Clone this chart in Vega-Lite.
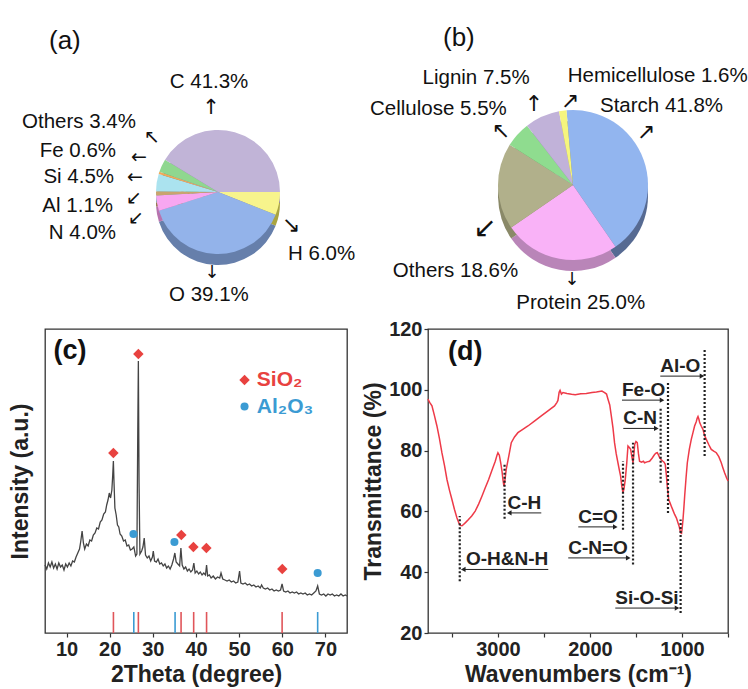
{
  "$schema": "https://vega.github.io/schema/vega-lite/v6.json",
  "background": "white",
  "padding": {"left": 8, "top": 24, "right": 0, "bottom": 0},
  "datasets": {
    "pieA": [
      {"cat": "H", "pct": 6.0, "idx": 1, "label": "H 6.0%"},
      {"cat": "O", "pct": 39.1, "idx": 2, "label": "O 39.1%"},
      {"cat": "N", "pct": 4.0, "idx": 3, "label": "N 4.0%"},
      {"cat": "Al", "pct": 1.1, "idx": 4, "label": "Al 1.1%"},
      {"cat": "Si", "pct": 4.5, "idx": 5, "label": "Si 4.5%"},
      {"cat": "Fe", "pct": 0.6, "idx": 6, "label": "Fe 0.6%"},
      {"cat": "Others", "pct": 3.4, "idx": 7, "label": "Others 3.4%"},
      {"cat": "C", "pct": 41.3, "idx": 8, "label": "C 41.3%"}
    ],
    "pieB": [
      {"cat": "Starch", "pct": 41.8, "idx": 1, "label": "Starch 41.8%"},
      {"cat": "Protein", "pct": 25.0, "idx": 2, "label": "Protein 25.0%"},
      {"cat": "Others", "pct": 18.6, "idx": 3, "label": "Others 18.6%"},
      {"cat": "Cellulose", "pct": 5.5, "idx": 4, "label": "Cellulose 5.5%"},
      {"cat": "Lignin", "pct": 7.5, "idx": 5, "label": "Lignin 7.5%"},
      {"cat": "Hemicellulose", "pct": 1.6, "idx": 6, "label": "Hemicellulose 1.6%"}
    ],
    "xrd": [
      {"tt": 5.0, "i": 68}, {"tt": 5.4, "i": 64}, {"tt": 5.8, "i": 70}, {"tt": 6.2, "i": 66}, {"tt": 6.6, "i": 71},
      {"tt": 7.0, "i": 65}, {"tt": 7.4, "i": 69}, {"tt": 7.8, "i": 64}, {"tt": 8.2, "i": 70}, {"tt": 8.6, "i": 66},
      {"tt": 9.0, "i": 68}, {"tt": 9.4, "i": 63}, {"tt": 9.8, "i": 69}, {"tt": 10.2, "i": 66}, {"tt": 10.6, "i": 70},
      {"tt": 11.0, "i": 67}, {"tt": 11.4, "i": 72}, {"tt": 11.8, "i": 71}, {"tt": 12.2, "i": 76}, {"tt": 12.6, "i": 80},
      {"tt": 13.0, "i": 84}, {"tt": 13.3, "i": 92}, {"tt": 13.6, "i": 102}, {"tt": 13.9, "i": 90}, {"tt": 14.2, "i": 84},
      {"tt": 14.6, "i": 89}, {"tt": 15.0, "i": 87}, {"tt": 15.4, "i": 93}, {"tt": 15.8, "i": 92}, {"tt": 16.2, "i": 98},
      {"tt": 16.6, "i": 100}, {"tt": 17.0, "i": 105}, {"tt": 17.4, "i": 104}, {"tt": 17.8, "i": 111}, {"tt": 18.2, "i": 113},
      {"tt": 18.6, "i": 119}, {"tt": 19.0, "i": 121}, {"tt": 19.3, "i": 128}, {"tt": 19.6, "i": 133}, {"tt": 19.9, "i": 140},
      {"tt": 20.2, "i": 135}, {"tt": 20.5, "i": 143}, {"tt": 20.7, "i": 158}, {"tt": 20.85, "i": 172}, {"tt": 21.0, "i": 150},
      {"tt": 21.2, "i": 125}, {"tt": 21.5, "i": 118}, {"tt": 21.8, "i": 108}, {"tt": 22.1, "i": 106}, {"tt": 22.4, "i": 99},
      {"tt": 22.8, "i": 97}, {"tt": 23.2, "i": 92}, {"tt": 23.6, "i": 93}, {"tt": 24.0, "i": 87}, {"tt": 24.4, "i": 88},
      {"tt": 24.8, "i": 83}, {"tt": 25.2, "i": 84}, {"tt": 25.6, "i": 86}, {"tt": 26.0, "i": 77}, {"tt": 26.3, "i": 79},
      {"tt": 26.5, "i": 200}, {"tt": 26.64, "i": 272}, {"tt": 26.8, "i": 150}, {"tt": 27.0, "i": 79}, {"tt": 27.4, "i": 82},
      {"tt": 27.7, "i": 86}, {"tt": 28.0, "i": 95}, {"tt": 28.3, "i": 78}, {"tt": 28.7, "i": 75}, {"tt": 29.1, "i": 77},
      {"tt": 29.5, "i": 72}, {"tt": 29.9, "i": 76}, {"tt": 30.1, "i": 82}, {"tt": 30.4, "i": 72}, {"tt": 30.8, "i": 71},
      {"tt": 31.2, "i": 74}, {"tt": 31.6, "i": 69}, {"tt": 32.0, "i": 70}, {"tt": 32.4, "i": 67}, {"tt": 32.8, "i": 69},
      {"tt": 33.2, "i": 65}, {"tt": 33.6, "i": 67}, {"tt": 34.0, "i": 64}, {"tt": 34.4, "i": 68}, {"tt": 34.8, "i": 74},
      {"tt": 35.1, "i": 80}, {"tt": 35.4, "i": 71}, {"tt": 35.8, "i": 69}, {"tt": 36.2, "i": 67}, {"tt": 36.5, "i": 85},
      {"tt": 36.8, "i": 68}, {"tt": 37.2, "i": 64}, {"tt": 37.6, "i": 66}, {"tt": 38.0, "i": 62}, {"tt": 38.4, "i": 64},
      {"tt": 38.8, "i": 61}, {"tt": 39.2, "i": 63}, {"tt": 39.5, "i": 70}, {"tt": 39.8, "i": 60}, {"tt": 40.2, "i": 62},
      {"tt": 40.6, "i": 59}, {"tt": 41.0, "i": 61}, {"tt": 41.4, "i": 58}, {"tt": 41.8, "i": 60}, {"tt": 42.2, "i": 58},
      {"tt": 42.45, "i": 68}, {"tt": 42.7, "i": 57}, {"tt": 43.1, "i": 58}, {"tt": 43.5, "i": 55}, {"tt": 44.0, "i": 57},
      {"tt": 44.5, "i": 54}, {"tt": 45.0, "i": 56}, {"tt": 45.5, "i": 55}, {"tt": 45.8, "i": 60}, {"tt": 46.2, "i": 54},
      {"tt": 46.7, "i": 53}, {"tt": 47.2, "i": 52}, {"tt": 47.7, "i": 53}, {"tt": 48.2, "i": 51}, {"tt": 48.7, "i": 52},
      {"tt": 49.2, "i": 50}, {"tt": 49.7, "i": 51}, {"tt": 50.1, "i": 62}, {"tt": 50.4, "i": 50}, {"tt": 50.9, "i": 49},
      {"tt": 51.4, "i": 50}, {"tt": 51.9, "i": 48}, {"tt": 52.4, "i": 49}, {"tt": 52.9, "i": 47}, {"tt": 53.4, "i": 48},
      {"tt": 53.9, "i": 46}, {"tt": 54.4, "i": 47}, {"tt": 54.9, "i": 45}, {"tt": 55.2, "i": 48}, {"tt": 55.6, "i": 45},
      {"tt": 56.1, "i": 44}, {"tt": 56.6, "i": 45}, {"tt": 57.1, "i": 43}, {"tt": 57.6, "i": 44}, {"tt": 58.1, "i": 42},
      {"tt": 58.6, "i": 43}, {"tt": 59.1, "i": 42}, {"tt": 59.6, "i": 43}, {"tt": 59.95, "i": 49}, {"tt": 60.3, "i": 42},
      {"tt": 60.8, "i": 41}, {"tt": 61.3, "i": 42}, {"tt": 61.8, "i": 40}, {"tt": 62.3, "i": 41}, {"tt": 62.8, "i": 40},
      {"tt": 63.3, "i": 41}, {"tt": 63.8, "i": 39}, {"tt": 64.3, "i": 40}, {"tt": 64.8, "i": 39}, {"tt": 65.3, "i": 40},
      {"tt": 65.8, "i": 38}, {"tt": 66.3, "i": 39}, {"tt": 66.8, "i": 38}, {"tt": 67.3, "i": 40}, {"tt": 67.8, "i": 42},
      {"tt": 68.2, "i": 47}, {"tt": 68.6, "i": 39}, {"tt": 69.1, "i": 38}, {"tt": 69.6, "i": 39}, {"tt": 70.1, "i": 37},
      {"tt": 70.6, "i": 39}, {"tt": 71.1, "i": 38}, {"tt": 71.6, "i": 39}, {"tt": 72.1, "i": 37}, {"tt": 72.6, "i": 38},
      {"tt": 73.1, "i": 37}, {"tt": 73.6, "i": 39}, {"tt": 74.1, "i": 37}, {"tt": 74.6, "i": 38}, {"tt": 75.0, "i": 37}
    ],
    "xrdRef": [
      {"tt": 20.86, "phase": "SiO₂"}, {"tt": 26.64, "phase": "SiO₂"}, {"tt": 36.54, "phase": "SiO₂"},
      {"tt": 39.46, "phase": "SiO₂"}, {"tt": 42.45, "phase": "SiO₂"}, {"tt": 59.96, "phase": "SiO₂"},
      {"tt": 25.58, "phase": "Al₂O₃"}, {"tt": 35.15, "phase": "Al₂O₃"}, {"tt": 68.2, "phase": "Al₂O₃"}
    ],
    "xrdMarks": [
      {"tt": 20.85, "i": 180, "phase": "SiO₂"}, {"tt": 26.64, "i": 279, "phase": "SiO₂"},
      {"tt": 36.6, "i": 98, "phase": "SiO₂"}, {"tt": 39.4, "i": 86, "phase": "SiO₂"},
      {"tt": 42.4, "i": 85, "phase": "SiO₂"}, {"tt": 60.0, "i": 64, "phase": "SiO₂"},
      {"tt": 25.5, "i": 99, "phase": "Al₂O₃"}, {"tt": 35.0, "i": 91, "phase": "Al₂O₃"},
      {"tt": 68.2, "i": 60, "phase": "Al₂O₃"}
    ],
    "ftir": [
      {"wn": 3761, "t": 96.9}, {"wn": 3740, "t": 95.8}, {"wn": 3717, "t": 94.7}, {"wn": 3690, "t": 91.5},
      {"wn": 3663, "t": 88.1}, {"wn": 3636, "t": 84}, {"wn": 3609, "t": 79.3}, {"wn": 3580, "t": 75},
      {"wn": 3554, "t": 70.5}, {"wn": 3527, "t": 67}, {"wn": 3500, "t": 63.9}, {"wn": 3473, "t": 60.7},
      {"wn": 3446, "t": 57.9}, {"wn": 3425, "t": 56.2}, {"wn": 3410, "t": 55.4}, {"wn": 3390, "t": 55.3},
      {"wn": 3374, "t": 55.7}, {"wn": 3350, "t": 56.4}, {"wn": 3320, "t": 57.3}, {"wn": 3285, "t": 58.5},
      {"wn": 3247, "t": 60.1}, {"wn": 3210, "t": 62.4}, {"wn": 3174, "t": 65}, {"wn": 3140, "t": 67.6},
      {"wn": 3101, "t": 70.5}, {"wn": 3065, "t": 73.5}, {"wn": 3029, "t": 76.5}, {"wn": 3010, "t": 78.5},
      {"wn": 3000, "t": 79.3}, {"wn": 2985, "t": 78.5}, {"wn": 2970, "t": 76}, {"wn": 2955, "t": 73},
      {"wn": 2946, "t": 70.5}, {"wn": 2935, "t": 68.3}, {"wn": 2925, "t": 70}, {"wn": 2910, "t": 73.8},
      {"wn": 2880, "t": 78.5}, {"wn": 2855, "t": 82.6}, {"wn": 2820, "t": 84.5}, {"wn": 2783, "t": 85.9},
      {"wn": 2730, "t": 87}, {"wn": 2674, "t": 88.1}, {"wn": 2600, "t": 89.8}, {"wn": 2529, "t": 91.4},
      {"wn": 2460, "t": 93}, {"wn": 2385, "t": 94.7}, {"wn": 2360, "t": 95.8}, {"wn": 2348, "t": 96.5},
      {"wn": 2335, "t": 99.2}, {"wn": 2325, "t": 99.8}, {"wn": 2310, "t": 98.6}, {"wn": 2293, "t": 99.1},
      {"wn": 2250, "t": 98.8}, {"wn": 2200, "t": 98.5}, {"wn": 2160, "t": 98.4}, {"wn": 2100, "t": 98.7},
      {"wn": 2040, "t": 98.8}, {"wn": 1978, "t": 99.1}, {"wn": 1930, "t": 99.3}, {"wn": 1870, "t": 99.6},
      {"wn": 1841, "t": 99.1}, {"wn": 1820, "t": 98.6}, {"wn": 1804, "t": 96.9}, {"wn": 1785, "t": 95},
      {"wn": 1768, "t": 91.4}, {"wn": 1750, "t": 87.5}, {"wn": 1733, "t": 82.6}, {"wn": 1715, "t": 79},
      {"wn": 1696, "t": 76}, {"wn": 1680, "t": 73.5}, {"wn": 1667, "t": 71.6}, {"wn": 1655, "t": 68.5},
      {"wn": 1641, "t": 66.1}, {"wn": 1630, "t": 67.5}, {"wn": 1616, "t": 70.5}, {"wn": 1600, "t": 76},
      {"wn": 1587, "t": 81.5}, {"wn": 1572, "t": 81}, {"wn": 1558, "t": 80.4}, {"wn": 1545, "t": 78},
      {"wn": 1532, "t": 76}, {"wn": 1522, "t": 79}, {"wn": 1514, "t": 82}, {"wn": 1500, "t": 83},
      {"wn": 1486, "t": 82.6}, {"wn": 1473, "t": 79}, {"wn": 1461, "t": 76.5}, {"wn": 1440, "t": 76.2},
      {"wn": 1420, "t": 76.5}, {"wn": 1407, "t": 76}, {"wn": 1380, "t": 76.3}, {"wn": 1352, "t": 76.5},
      {"wn": 1325, "t": 77.5}, {"wn": 1298, "t": 78.7}, {"wn": 1280, "t": 79.2}, {"wn": 1268, "t": 79.3},
      {"wn": 1255, "t": 78.5}, {"wn": 1243, "t": 77.7}, {"wn": 1225, "t": 77}, {"wn": 1207, "t": 76.5},
      {"wn": 1195, "t": 76.2}, {"wn": 1182, "t": 75.5}, {"wn": 1170, "t": 72}, {"wn": 1160, "t": 68.3},
      {"wn": 1150, "t": 65.5}, {"wn": 1145, "t": 63.9}, {"wn": 1130, "t": 62.8}, {"wn": 1116, "t": 61.7},
      {"wn": 1100, "t": 60.5}, {"wn": 1080, "t": 59}, {"wn": 1060, "t": 57.8}, {"wn": 1043, "t": 56.2},
      {"wn": 1030, "t": 55}, {"wn": 1015, "t": 53}, {"wn": 1005, "t": 52.8}, {"wn": 1000, "t": 54},
      {"wn": 990, "t": 57}, {"wn": 980, "t": 61}, {"wn": 971, "t": 65}, {"wn": 956, "t": 71},
      {"wn": 942, "t": 76}, {"wn": 920, "t": 80.5}, {"wn": 899, "t": 83.7}, {"wn": 880, "t": 86},
      {"wn": 863, "t": 88.1}, {"wn": 845, "t": 89.5}, {"wn": 835, "t": 90.6}, {"wn": 826, "t": 91.2},
      {"wn": 816, "t": 90.3}, {"wn": 808, "t": 89.2}, {"wn": 790, "t": 88}, {"wn": 772, "t": 87},
      {"wn": 755, "t": 85}, {"wn": 736, "t": 83.7}, {"wn": 710, "t": 82}, {"wn": 682, "t": 80.4},
      {"wn": 655, "t": 79.8}, {"wn": 627, "t": 79.3}, {"wn": 600, "t": 78}, {"wn": 573, "t": 76},
      {"wn": 555, "t": 74.3}, {"wn": 537, "t": 72.7}, {"wn": 515, "t": 71}, {"wn": 500, "t": 70}
    ],
    "ftirBands": [
      {"band": "O-H&N-H", "wn": 3415, "t1": 37, "t2": 58.5, "tail": 2453, "head": 3377, "ta": 40.9, "dir": "left"},
      {"band": "C-H", "wn": 2928, "t1": 57.6, "t2": 75.5, "tail": 2529, "head": 2877, "ta": 59.5, "dir": "left"},
      {"band": "C=O", "wn": 1641, "t1": 54, "t2": 76.5, "tail": 2127, "head": 1725, "ta": 54.9, "dir": "right"},
      {"band": "C-N=O", "wn": 1532, "t1": 42.5, "t2": 82.6, "tail": 2236, "head": 1584, "ta": 44.7, "dir": "right"},
      {"band": "C-N", "wn": 1232, "t1": 69.4, "t2": 93.8, "tail": 1638, "head": 1279, "ta": 87.3, "dir": "right"},
      {"band": "Fe-O", "wn": 1152, "t1": 59.5, "t2": 102.9, "tail": 1652, "head": 1217, "ta": 96.6, "dir": "right"},
      {"band": "Si-O-Si", "wn": 1015, "t1": 26.6, "t2": 57.3, "tail": 1725, "head": 1054, "ta": 28.2, "dir": "right"},
      {"band": "Al-O", "wn": 754, "t1": 78.2, "t2": 113.4, "tail": 1236, "head": 783, "ta": 104.5, "dir": "right"}
    ]
  },
  "columns": 2,
  "spacing": {"row": 3, "column": 37},
  "bounds": "flush",
  "resolve": {"scale": {"color": "independent", "fill": "independent", "theta": "independent", "shape": "independent", "size": "independent", "stroke": "independent"}},
  "concat": [
    {
      "width": 346, "height": 268,
      "view": {"stroke": null},
      "title": {"text": "(a)", "anchor": "start", "frame": "group", "fontSize": 26, "fontWeight": "normal", "font": "Liberation Sans", "color": "#111", "baseline": "alphabetic", "offset": -17, "dx": 4},
      "data": {"name": "pieA"},
      "encoding": {
        "theta": {"field": "pct", "type": "quantitative", "stack": true, "scale": {"range": [1.5708, 7.854]}},
        "order": {"field": "idx", "type": "quantitative"},
        "detail": {"field": "cat", "type": "nominal"}
      },
      "layer": [
        {"mark": {"type": "arc", "radius": 62, "yOffset": 11},
         "encoding": {"fill": {"field": "cat", "type": "nominal", "legend": null,
           "scale": {"domain": ["H", "O", "N", "Al", "Si", "Fe", "Others", "C"], "range": ["#a9a440", "#667fab", "#b773ae", "#9a7850", "#78a8b0", "#b07838", "#5e9a5e", "#8a7ea0"]}}}},
        {"mark": {"type": "arc", "radius": 62},
         "encoding": {"color": {"field": "cat", "type": "nominal", "legend": null,
           "scale": {"domain": ["H", "O", "N", "Al", "Si", "Fe", "Others", "C"], "range": ["#f7f48c", "#93b3ea", "#f8a7f1", "#c9a46e", "#abe3ef", "#f0a85a", "#8fd78f", "#c1b4d7"]}}}},
        {"mark": {"type": "text", "radius": 62, "dx": -25.7, "dy": -50.3, "align": "center", "baseline": "middle", "fontSize": 20.5, "color": "#111"},
         "encoding": {"text": {"condition": {"test": "datum.cat === 'C'", "field": "label", "type": "nominal"}, "value": ""}}},
        {"mark": {"type": "text", "radius": 62, "dx": -25.9, "dy": -43.6, "align": "right", "baseline": "middle", "fontSize": 20.5, "color": "#111"},
         "encoding": {"text": {"condition": {"test": "datum.cat === 'Others'", "field": "label", "type": "nominal"}, "value": ""}}},
        {"mark": {"type": "text", "radius": 62, "dx": -43, "dy": -21.8, "align": "right", "baseline": "middle", "fontSize": 20.5, "color": "#111"},
         "encoding": {"text": {"condition": {"test": "datum.cat === 'Fe'", "field": "label", "type": "nominal"}, "value": ""}}},
        {"mark": {"type": "text", "radius": 62, "dx": -42.7, "dy": -5.5, "align": "right", "baseline": "middle", "fontSize": 20.5, "color": "#111"},
         "encoding": {"text": {"condition": {"test": "datum.cat === 'Si'", "field": "label", "type": "nominal"}, "value": ""}}},
        {"mark": {"type": "text", "radius": 62, "dx": -43, "dy": 12.6, "align": "right", "baseline": "middle", "fontSize": 20.5, "color": "#111"},
         "encoding": {"text": {"condition": {"test": "datum.cat === 'Al'", "field": "label", "type": "nominal"}, "value": ""}}},
        {"mark": {"type": "text", "radius": 62, "dx": -41, "dy": 29.8, "align": "right", "baseline": "middle", "fontSize": 20.5, "color": "#111"},
         "encoding": {"text": {"condition": {"test": "datum.cat === 'N'", "field": "label", "type": "nominal"}, "value": ""}}},
        {"mark": {"type": "text", "radius": 62, "dx": 9.1, "dy": 50.4, "align": "left", "baseline": "middle", "fontSize": 20.5, "color": "#111"},
         "encoding": {"text": {"condition": {"test": "datum.cat === 'H'", "field": "label", "type": "nominal"}, "value": ""}}},
        {"mark": {"type": "text", "radius": 62, "dx": -6.9, "dy": 41, "align": "center", "baseline": "middle", "fontSize": 20.5, "color": "#111"},
         "encoding": {"text": {"condition": {"test": "datum.cat === 'O'", "field": "label", "type": "nominal"}, "value": ""}}},
        {"mark": {"type": "text", "radius": 62, "dx": -23.7, "dy": -24.3, "align": "center", "baseline": "middle", "fontSize": 21, "font": "DejaVu Sans", "color": "#111"},
         "encoding": {"text": {"condition": {"test": "datum.cat === 'C'", "value": "↑"}, "value": ""}}},
        {"mark": {"type": "text", "radius": 62, "dx": -9.9, "dy": -28.6, "align": "center", "baseline": "middle", "fontSize": 19, "font": "DejaVu Sans", "color": "#111"},
         "encoding": {"text": {"condition": {"test": "datum.cat === 'Others'", "value": "↖"}, "value": ""}}},
        {"mark": {"type": "text", "radius": 62, "dx": -20, "dy": -16.3, "align": "center", "baseline": "middle", "fontSize": 19, "font": "DejaVu Sans", "color": "#111"},
         "encoding": {"text": {"condition": {"test": "datum.cat === 'Fe'", "value": "←"}, "value": ""}}},
        {"mark": {"type": "text", "radius": 62, "dx": -21.7, "dy": -5.5, "align": "center", "baseline": "middle", "fontSize": 19, "font": "DejaVu Sans", "color": "#111"},
         "encoding": {"text": {"condition": {"test": "datum.cat === 'Si'", "value": "←"}, "value": ""}}},
        {"mark": {"type": "text", "radius": 62, "dx": -22, "dy": 4.6, "align": "center", "baseline": "middle", "fontSize": 19, "font": "DejaVu Sans", "color": "#111"},
         "encoding": {"text": {"condition": {"test": "datum.cat === 'Al'", "value": "↙"}, "value": ""}}},
        {"mark": {"type": "text", "radius": 62, "dx": -21, "dy": 14.3, "align": "center", "baseline": "middle", "fontSize": 19, "font": "DejaVu Sans", "color": "#111"},
         "encoding": {"text": {"condition": {"test": "datum.cat === 'N'", "value": "↙"}, "value": ""}}},
        {"mark": {"type": "text", "radius": 62, "dx": 12.1, "dy": 21.4, "align": "center", "baseline": "middle", "fontSize": 22, "font": "DejaVu Sans", "color": "#111"},
         "encoding": {"text": {"condition": {"test": "datum.cat === 'H'", "value": "↘"}, "value": ""}}},
        {"mark": {"type": "text", "radius": 62, "dx": -3.9, "dy": 19, "align": "center", "baseline": "middle", "fontSize": 18, "font": "DejaVu Sans", "color": "#111"},
         "encoding": {"text": {"condition": {"test": "datum.cat === 'O'", "value": "↓"}, "value": ""}}}
      ]
    },
    {
      "width": 290, "height": 254,
      "view": {"stroke": null},
      "title": {"text": "(b)", "anchor": "start", "frame": "group", "fontSize": 26, "fontWeight": "normal", "font": "Liberation Sans", "color": "#111", "baseline": "alphabetic", "offset": -25, "dx": 15},
      "data": {"name": "pieB"},
      "encoding": {
        "theta": {"field": "pct", "type": "quantitative", "stack": true, "scale": {"range": [-0.0873, 6.1959]}},
        "order": {"field": "idx", "type": "quantitative"},
        "detail": {"field": "cat", "type": "nominal"}
      },
      "layer": [
        {"mark": {"type": "arc", "radius": 75, "yOffset": 11},
         "encoding": {"fill": {"field": "cat", "type": "nominal", "legend": null,
           "scale": {"domain": ["Starch", "Protein", "Others", "Cellulose", "Lignin", "Hemicellulose"], "range": ["#566a92", "#b985b8", "#8a8968", "#64a064", "#8e80a8", "#b0b050"]}}}},
        {"mark": {"type": "arc", "radius": 75},
         "encoding": {"color": {"field": "cat", "type": "nominal", "legend": null,
           "scale": {"domain": ["Starch", "Protein", "Others", "Cellulose", "Lignin", "Hemicellulose"], "range": ["#92b5ef", "#f9b2f7", "#b1b08b", "#8fdc8f", "#c1b2d9", "#f5f57e"]}}}},
        {"mark": {"type": "text", "radius": 75, "dx": -43.6, "dy": -53.9, "align": "left", "baseline": "middle", "fontSize": 20.5, "color": "#111"},
         "encoding": {"text": {"condition": {"test": "datum.cat === 'Starch'", "field": "label", "type": "nominal"}, "value": ""}}},
        {"mark": {"type": "text", "radius": 75, "dx": 21.4, "dy": 44.3, "align": "center", "baseline": "middle", "fontSize": 20.5, "color": "#111"},
         "encoding": {"text": {"condition": {"test": "datum.cat === 'Protein'", "field": "label", "type": "nominal"}, "value": ""}}},
        {"mark": {"type": "text", "radius": 75, "dx": -42.5, "dy": 84.4, "align": "center", "baseline": "middle", "fontSize": 20.5, "color": "#111"},
         "encoding": {"text": {"condition": {"test": "datum.cat === 'Others'", "field": "label", "type": "nominal"}, "value": ""}}},
        {"mark": {"type": "text", "radius": 75, "dx": -10.8, "dy": -25.5, "align": "right", "baseline": "middle", "fontSize": 20.5, "color": "#111"},
         "encoding": {"text": {"condition": {"test": "datum.cat === 'Cellulose'", "field": "label", "type": "nominal"}, "value": ""}}},
        {"mark": {"type": "text", "radius": 75, "dx": -66.1, "dy": -38.6, "align": "center", "baseline": "middle", "fontSize": 20.5, "color": "#111"},
         "encoding": {"text": {"condition": {"test": "datum.cat === 'Lignin'", "field": "label", "type": "nominal"}, "value": ""}}},
        {"mark": {"type": "text", "radius": 75, "dx": 5, "dy": -34.7, "align": "left", "baseline": "middle", "fontSize": 20.5, "color": "#111"},
         "encoding": {"text": {"condition": {"test": "datum.cat === 'Hemicellulose'", "field": "label", "type": "nominal"}, "value": ""}}},
        {"mark": {"type": "text", "radius": 75, "dx": 2.4, "dy": -27.6, "align": "center", "baseline": "middle", "fontSize": 22, "font": "DejaVu Sans", "color": "#111"},
         "encoding": {"text": {"condition": {"test": "datum.cat === 'Starch'", "value": "↗"}, "value": ""}}},
        {"mark": {"type": "text", "radius": 75, "dx": 12.7, "dy": 21, "align": "center", "baseline": "middle", "fontSize": 18, "font": "DejaVu Sans", "color": "#111"},
         "encoding": {"text": {"condition": {"test": "datum.cat === 'Protein'", "value": "↓"}, "value": ""}}},
        {"mark": {"type": "text", "radius": 75, "dx": -13, "dy": 42.7, "align": "center", "baseline": "middle", "fontSize": 28, "font": "DejaVu Sans", "color": "#111"},
         "encoding": {"text": {"condition": {"test": "datum.cat === 'Others'", "value": "↙"}, "value": ""}}},
        {"mark": {"type": "text", "radius": 75, "dx": -16.5, "dy": -3.5, "align": "center", "baseline": "middle", "fontSize": 22, "font": "DejaVu Sans", "color": "#111"},
         "encoding": {"text": {"condition": {"test": "datum.cat === 'Cellulose'", "value": "↖"}, "value": ""}}},
        {"mark": {"type": "text", "radius": 75, "dx": -8.1, "dy": -12.6, "align": "center", "baseline": "middle", "fontSize": 22, "font": "DejaVu Sans", "color": "#111"},
         "encoding": {"text": {"condition": {"test": "datum.cat === 'Lignin'", "value": "↑"}, "value": ""}}},
        {"mark": {"type": "text", "radius": 75, "dx": 7.3, "dy": -10.2, "align": "center", "baseline": "middle", "fontSize": 22, "font": "DejaVu Sans", "color": "#111"},
         "encoding": {"text": {"condition": {"test": "datum.cat === 'Hemicellulose'", "value": "↗"}, "value": ""}}}
      ]
    },
    {
      "width": 302, "height": 304,
      "layer": [
        {"data": {"name": "xrd"},
         "mark": {"type": "line", "stroke": "#444444", "strokeWidth": 1.3},
         "encoding": {
           "x": {"field": "tt", "type": "quantitative", "scale": {"domain": [5, 75], "nice": false},
                 "axis": {"title": "2Theta (degree)", "values": [10, 20, 30, 40, 50, 60, 70], "format": "d", "labelOverlap": false, "labelPadding": 2, "titlePadding": 4, "labels": true, "ticks": true}},
           "y": {"field": "i", "type": "quantitative", "scale": {"domain": [0, 304], "nice": false},
                 "axis": {"title": "Intensity (a.u.)", "labels": false, "ticks": false, "titlePadding": 13}}
         }},
        {"data": {"name": "xrdRef"},
         "mark": {"type": "rule", "strokeWidth": 1.6},
         "encoding": {
           "x": {"field": "tt", "type": "quantitative"},
           "y": {"datum": 0, "type": "quantitative"},
           "y2": {"datum": 21},
           "stroke": {"field": "phase", "type": "nominal", "legend": null, "scale": {"domain": ["SiO₂", "Al₂O₃"], "range": ["#e0555a", "#3b9bd3"]}}
         }},
        {"data": {"name": "xrdMarks"},
         "mark": {"type": "point", "filled": true, "opacity": 1},
         "encoding": {
           "x": {"field": "tt", "type": "quantitative"},
           "y": {"field": "i", "type": "quantitative"},
           "color": {"field": "phase", "type": "nominal", "legend": null, "scale": {"domain": ["SiO₂", "Al₂O₃"], "range": ["#e8423f", "#3b9bd3"]}},
           "shape": {"field": "phase", "type": "nominal", "legend": null, "scale": {"domain": ["SiO₂", "Al₂O₃"], "range": ["diamond", "circle"]}},
           "size": {"field": "phase", "type": "nominal", "legend": null, "scale": {"domain": ["SiO₂", "Al₂O₃"], "range": [110, 65]}}
         }},
        {"data": {"values": [{}]},
         "mark": {"type": "point", "shape": "diamond", "filled": true, "opacity": 1, "color": "#e8423f", "size": 110},
         "encoding": {"x": {"datum": 51.25, "type": "quantitative"}, "y": {"datum": 253, "type": "quantitative"}}},
        {"data": {"values": [{}]},
         "mark": {"type": "point", "shape": "circle", "filled": true, "opacity": 1, "color": "#3b9bd3", "size": 65},
         "encoding": {"x": {"datum": 51.25, "type": "quantitative"}, "y": {"datum": 226.5, "type": "quantitative"}}},
        {"data": {"values": [{}]},
         "mark": {"type": "text", "text": "SiO₂", "align": "left", "baseline": "middle", "fontSize": 21, "fontWeight": "bold", "color": "#e8423f"},
         "encoding": {"x": {"datum": 54.1, "type": "quantitative"}, "y": {"datum": 253, "type": "quantitative"}}},
        {"data": {"values": [{}]},
         "mark": {"type": "text", "text": "Al₂O₃", "align": "left", "baseline": "middle", "fontSize": 21, "fontWeight": "bold", "color": "#3b9bd3"},
         "encoding": {"x": {"datum": 54.1, "type": "quantitative"}, "y": {"datum": 226.5, "type": "quantitative"}}},
        {"data": {"values": [{}]},
         "mark": {"type": "text", "text": "(c)", "fontSize": 27, "fontWeight": "bold", "color": "#111", "align": "center", "baseline": "middle"},
         "encoding": {"x": {"datum": 10.8, "type": "quantitative"}, "y": {"datum": 282, "type": "quantitative"}}}
      ]
    },
    {
      "width": 300, "height": 304,
      "layer": [
        {"data": {"name": "ftir"},
         "mark": {"type": "line", "stroke": "#ee3a48", "strokeWidth": 1.5},
         "encoding": {
           "x": {"field": "wn", "type": "quantitative", "scale": {"domain": [500, 3760], "reverse": true, "nice": false},
                 "axis": {"title": "Wavenumbers (cm⁻¹)", "values": [500, 1000, 1500, 2000, 2500, 3000, 3500], "format": "d", "labelExpr": "datum.value % 1000 === 0 ? datum.label : ''", "labelOverlap": false, "labelPadding": 2, "titlePadding": 4}},
           "y": {"field": "t", "type": "quantitative", "scale": {"domain": [20, 120], "nice": false},
                 "axis": {"title": "Transmittance (%)", "values": [20, 30, 40, 50, 60, 70, 80, 90, 100, 110, 120], "labelExpr": "datum.value % 20 === 0 ? datum.label : ''", "labelOverlap": false, "labelPadding": 2, "titlePadding": 3}}
         }},
        {"data": {"name": "ftirBands"},
         "mark": {"type": "rule", "strokeDash": [2, 2], "strokeWidth": 2.2, "color": "#222"},
         "encoding": {
           "x": {"field": "wn", "type": "quantitative"},
           "y": {"field": "t1", "type": "quantitative"},
           "y2": {"field": "t2"}
         }},
        {"data": {"name": "ftirBands"},
         "mark": {"type": "rule", "strokeWidth": 1, "color": "#222"},
         "encoding": {
           "x": {"field": "tail", "type": "quantitative"},
           "x2": {"field": "head"},
           "y": {"field": "ta", "type": "quantitative"}
         }},
        {"data": {"name": "ftirBands"},
         "mark": {"type": "point", "filled": true, "color": "#222", "opacity": 1, "size": 28},
         "encoding": {
           "x": {"field": "head", "type": "quantitative"},
           "y": {"field": "ta", "type": "quantitative"},
           "shape": {"field": "dir", "type": "nominal", "legend": null, "scale": {"domain": ["left", "right"], "range": ["triangle-left", "triangle-right"]}}
         }},
        {"data": {"name": "ftirBands"},
         "transform": [{"filter": "datum.dir === 'right'"}],
         "mark": {"type": "text", "align": "left", "baseline": "alphabetic", "dy": -4, "fontSize": 19, "fontWeight": "bold", "color": "#222"},
         "encoding": {
           "x": {"field": "tail", "type": "quantitative"},
           "y": {"field": "ta", "type": "quantitative"},
           "text": {"field": "band", "type": "nominal"}
         }},
        {"data": {"name": "ftirBands"},
         "transform": [{"filter": "datum.dir === 'left'"}],
         "mark": {"type": "text", "align": "right", "baseline": "alphabetic", "dy": -4, "fontSize": 19, "fontWeight": "bold", "color": "#222"},
         "encoding": {
           "x": {"field": "tail", "type": "quantitative"},
           "y": {"field": "ta", "type": "quantitative"},
           "text": {"field": "band", "type": "nominal"}
         }},
        {"data": {"values": [{}]},
         "mark": {"type": "text", "text": "(d)", "fontSize": 27, "fontWeight": "bold", "color": "#111", "align": "center", "baseline": "middle"},
         "encoding": {"x": {"datum": 3355, "type": "quantitative"}, "y": {"datum": 112.4, "type": "quantitative"}}}
      ]
    }
  ],
  "config": {
    "font": "Liberation Sans",
    "view": {"stroke": "#333", "strokeWidth": 1.3},
    "axis": {"grid": false, "domain": false, "tickColor": "#333", "tickSize": 4, "tickWidth": 1.2, "labelFont": "Liberation Sans", "labelFontSize": 20, "labelFontWeight": "bold", "labelColor": "#222", "titleFont": "Liberation Sans", "titleFontSize": 23, "titleFontWeight": "bold", "titleColor": "#222", "labelFlush": false}
  }
}
